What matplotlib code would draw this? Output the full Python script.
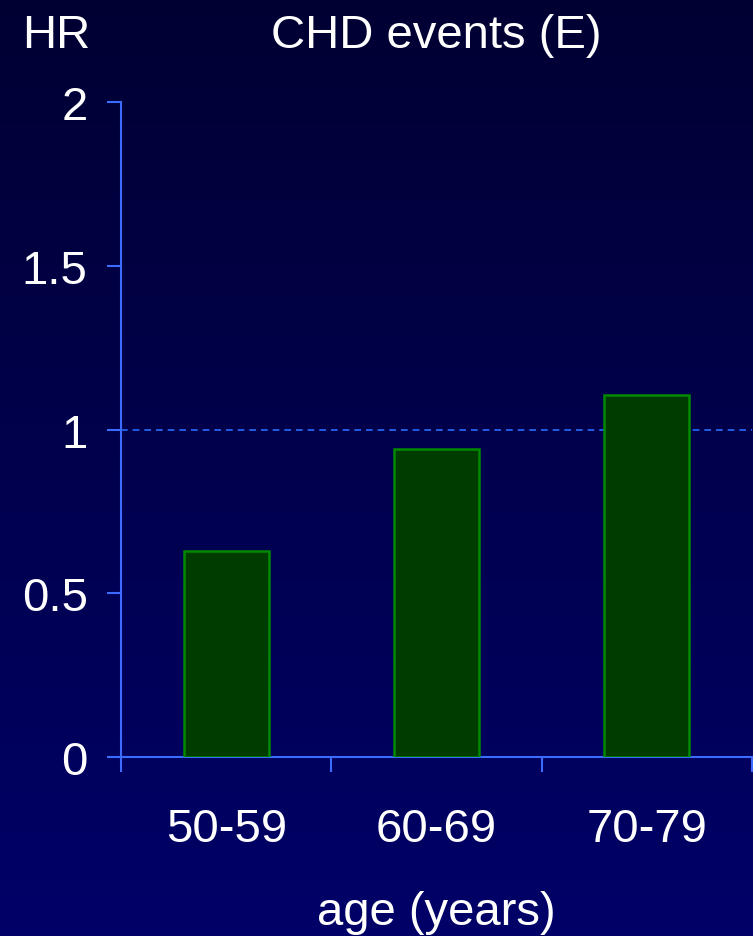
import numpy as np
import matplotlib
matplotlib.use("Agg")
import matplotlib.pyplot as plt

# data
age_groups = ["50-59", "60-69", "70-79"]
hr_values = [0.63, 0.94, 1.105]
y_ticks = [0, 0.5, 1, 1.5, 2]
y_tick_labels = ["0", "0.5", "1", "1.5", "2"]
reference_hr = 1.0

plt.rcParams["font.family"] = ["Liberation Sans", "DejaVu Sans"]

fig = plt.figure(figsize=(7.53, 9.37), dpi=100)

# vertical navy gradient background
bg = fig.add_axes([0, 0, 1, 1], zorder=-10)
grad = np.linspace(0, 1, 256).reshape(-1, 1)
top = np.array([0x00, 0x00, 0x33]) / 255
bottom = np.array([0x00, 0x00, 0x68]) / 255
img = top + (bottom - top) * grad[:, :, None]
bg.imshow(img, aspect="auto", extent=[0, 1, 0, 1], origin="upper")
bg.axis("off")

ax = fig.add_axes([121 / 753, 179 / 937, 631 / 753, 655 / 937])
ax.set_facecolor("none")

axis_blue = "#3b6bff"
x = np.arange(len(age_groups)) + 0.5
ax.bar(x, hr_values, width=0.405, color="#003c00", edgecolor="#008a00",
       linewidth=1.8, zorder=3)
ax.axhline(reference_hr, color="#2a6cff", linestyle=(0, (4, 3)), linewidth=1.2,
           zorder=2)

ax.set_xlim(0, 3)
ax.set_ylim(0, 2)

for side in ["top", "right"]:
    ax.spines[side].set_visible(False)
for side in ["left", "bottom"]:
    ax.spines[side].set_color(axis_blue)
    ax.spines[side].set_linewidth(1.5)

ax.set_yticks(y_ticks)
ax.set_yticklabels(y_tick_labels)
ax.tick_params(axis="y", colors=axis_blue, length=10, width=1.5,
               labelcolor="white", labelsize=34, pad=14)

ax.set_xticks([0, 1, 2, 3])
ax.set_xticklabels([])
ax.set_xticks(x, minor=True)
ax.set_xticklabels(age_groups, minor=True)
ax.tick_params(axis="x", which="major", colors=axis_blue, length=11, width=1.5)
ax.tick_params(axis="x", which="minor", length=0, labelcolor="white",
               labelsize=34, pad=36)

ax.set_xlabel("age (years)", color="white", fontsize=34, labelpad=28)

fig.text(436 / 753, 1 - 36 / 937, "CHD events (E)", color="white", fontsize=34,
         ha="center", va="center")
fig.text(22 / 753, 1 - 36 / 937, "HR", color="white", fontsize=34,
         ha="left", va="center")

fig.savefig("out.png", dpi=100)
